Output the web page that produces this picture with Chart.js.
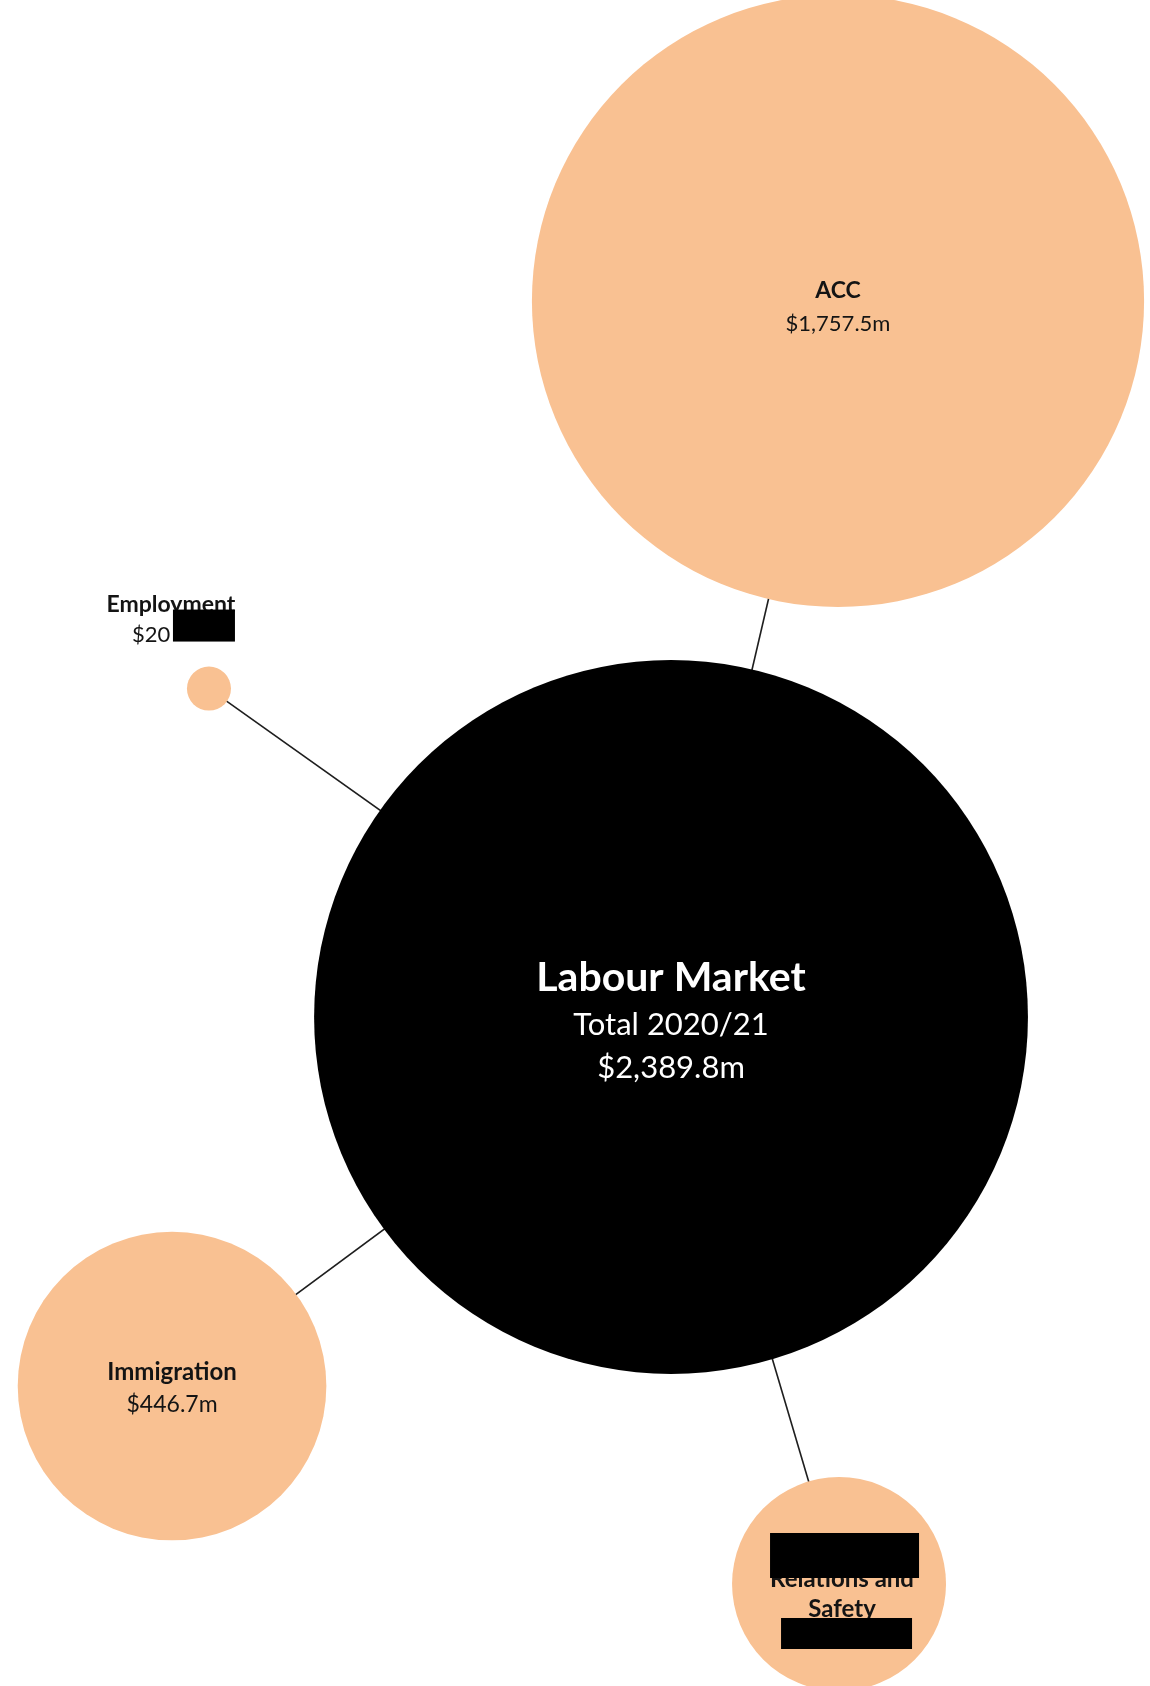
<!DOCTYPE html>
<html>
<head>
<meta charset="utf-8">
<script src="https://cdn.jsdelivr.net/npm/chart.js@4/dist/chart.umd.min.js"></script>
<style>
  html, body { margin: 0; padding: 0; background: #ffffff; }
  #wrap { width: 1150px; height: 1686px; }
</style>
</head>
<body>
<div id="wrap"><canvas id="c" width="1150" height="1686"></canvas></div>
<script>
// ---- data ----
const categories = ['Labour Market', 'ACC', 'Employment', 'Immigration', 'Workplace Relations and Safety'];
// spending, $m (redacted values)
const values = [2389.8, 1757.5, 9.1, 446.7, 214.7];
// bubble layout positions (percent of plot width / height)
const posX = [58.35, 72.87, 18.17, 14.96, 72.96];
const posY = [60.32, 17.85, 40.84, 82.21, 93.95];
const titleLines = [
  ['Labour Market'],
  ['ACC'],
  ['Employment'],
  ['Immigration'],
  ['Relations and', 'Safety']
];
const valueLabels = ['$2,389.8m', '$1,757.5m', '$20', '$446.7m', ''];
const subtitle = 'Total 2020/21';
const links = [[0, 1], [0, 2], [0, 3], [0, 4]];

const maxValue = Math.max(...values);
const PEACH = '#F9C192';
const FONT = 'Lato, "Open Sans", sans-serif';

const bubbleData = categories.map((c, i) => ({ x: posX[i], y: posY[i] }));

const lineSets = links.map(([a, b]) => ({
  type: 'line',
  data: [{ x: posX[a], y: posY[a] }, { x: posX[b], y: posY[b] }],
  borderColor: '#1e1e1e',
  borderWidth: 1.6,
  pointRadius: 0,
  fill: false,
  order: 2,
  clip: false
}));

function radiusFor(chart, i) {
  const h = chart.height || 1686;
  const rMax = h * 0.2117;
  return rMax * Math.sqrt(values[i] / maxValue);
}

const labelPlugin = {
  id: 'bubbleLabels',
  afterDatasetsDraw(chart) {
    const ctx = chart.ctx;
    const meta = chart.getDatasetMeta(0);
    ctx.save();
    ctx.textAlign = 'center';
    ctx.textBaseline = 'alphabetic';
    meta.data.forEach((el, i) => {
      const x = el.x, y = el.y;
      if (i === 0) {
        ctx.fillStyle = '#ffffff';
        ctx.font = 'bold 41px ' + FONT;
        ctx.fillText(titleLines[0][0], x, y - 26);
        ctx.font = '31px ' + FONT;
        ctx.fillText(subtitle, x, y + 18);
        ctx.fillText(valueLabels[0], x, y + 61);
      } else if (i === 1) {
        ctx.fillStyle = '#141414';
        ctx.font = 'bold 23px ' + FONT;
        ctx.fillText(titleLines[1][0], x, y - 3);
        ctx.font = '22px ' + FONT;
        ctx.fillText(valueLabels[1], x, y + 30);
      } else if (i === 2) {
        ctx.fillStyle = '#141414';
        ctx.font = 'bold 23px ' + FONT;
        ctx.fillText(titleLines[2][0], x - 38, y - 77);
        ctx.font = '22px ' + FONT;
        ctx.textAlign = 'left';
        ctx.fillText(valueLabels[2], x - 77, y - 47);
        ctx.textAlign = 'center';
        ctx.fillStyle = '#000000';
        ctx.fillRect(x - 36, y - 79, 62, 32);
      } else if (i === 3) {
        ctx.fillStyle = '#141414';
        ctx.font = 'bold 24px ' + FONT;
        ctx.fillText(titleLines[3][0], x, y - 6);
        ctx.font = '23px ' + FONT;
        ctx.fillText(valueLabels[3], x, y + 26);
      } else if (i === 4) {
        ctx.fillStyle = '#141414';
        ctx.font = 'bold 24px ' + FONT;
        ctx.fillText(titleLines[4][0], x + 3, y + 3);
        ctx.fillText(titleLines[4][1], x + 3, y + 33);
        ctx.fillStyle = '#000000';
        ctx.fillRect(x - 69, y - 51, 149, 45);
        ctx.fillRect(x - 58, y + 34, 131, 31);
      }
    });
    ctx.restore();
  }
};

new Chart(document.getElementById('c'), {
  type: 'bubble',
  data: {
    datasets: [
      {
        label: 'Spending',
        data: bubbleData,
        backgroundColor: ['#000000', PEACH, PEACH, PEACH, PEACH],
        borderColor: ['#000000', PEACH, PEACH, PEACH, PEACH],
        borderWidth: 0,
        radius: (c) => radiusFor(c.chart, c.dataIndex),
        hoverRadius: 0,
        order: 1,
        clip: false
      },
      ...lineSets
    ]
  },
  options: {
    responsive: false,
    animation: false,
    events: [],
    layout: { padding: 0, autoPadding: false },
    plugins: { legend: { display: false }, tooltip: { enabled: false } },
    scales: {
      x: { type: 'linear', min: 0, max: 100, display: false },
      y: { type: 'linear', min: 0, max: 100, reverse: true, display: false }
    }
  },
  plugins: [labelPlugin]
});
</script>
</body>
</html>
